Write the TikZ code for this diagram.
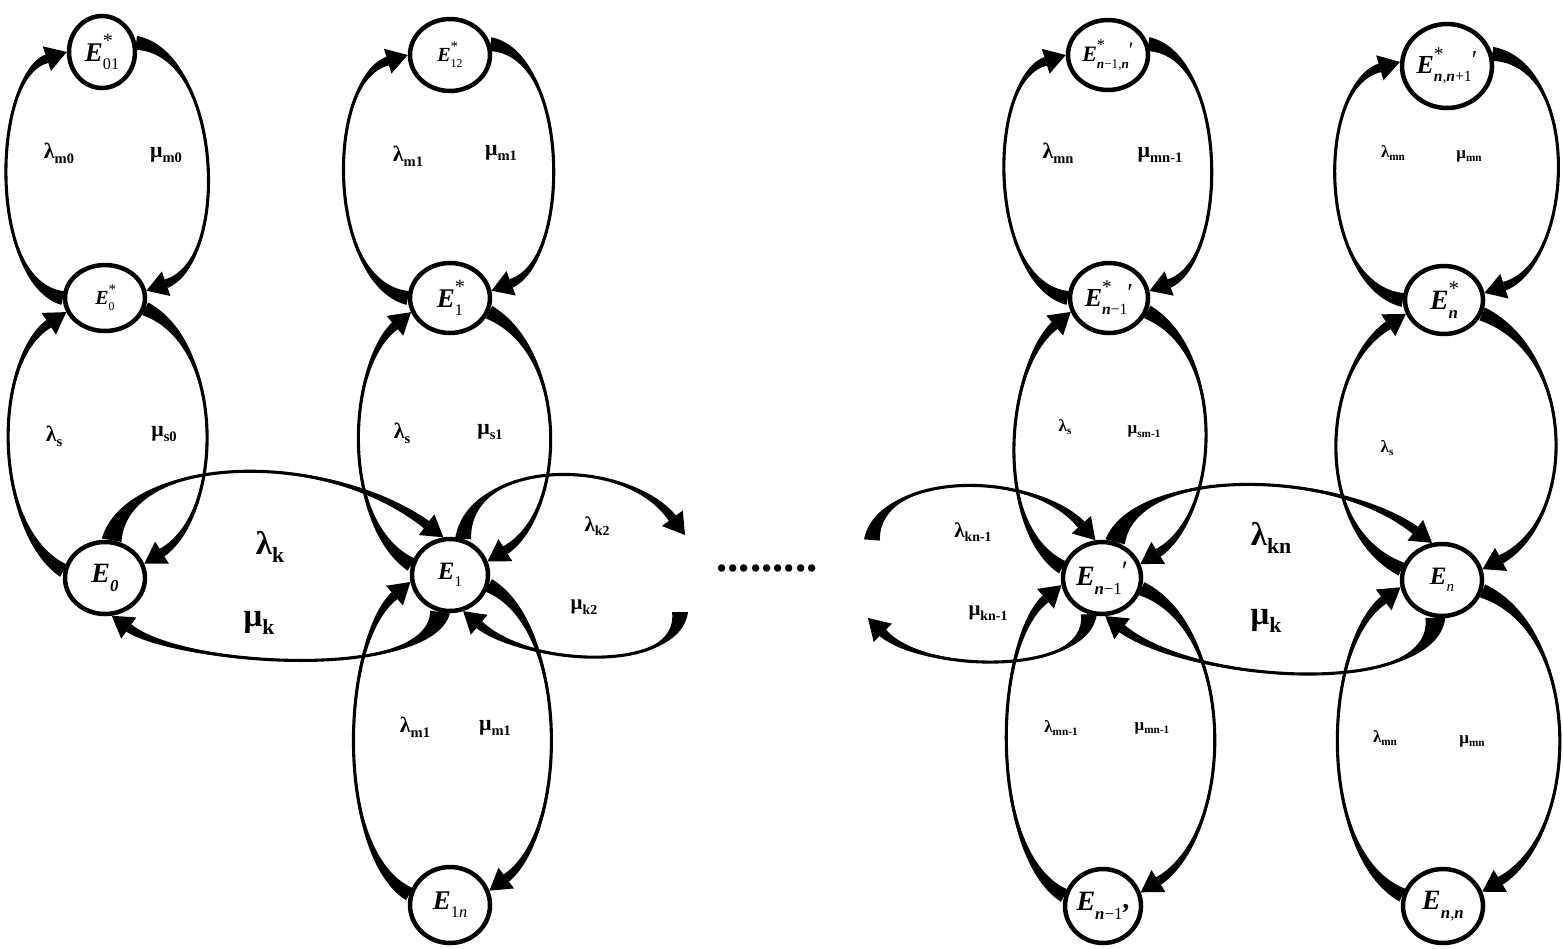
\documentclass[tikz,border=0pt]{standalone}
\usepackage{fontspec}
\setmainfont{Liberation Serif}
\usetikzlibrary{calc, shapes.geometric, backgrounds}

\makeatletter
\newcommand{\shrink}[1]{\fontsize{\fpeval{#1*\f@size}}{\fpeval{#1*\f@size}}\selectfont}
\makeatother
\newcommand{\fs}[1]{\fontsize{#1}{#1}\selectfont\bfseries}
\newcommand{\bi}[1]{\textbf{\textit{#1}}}
\newcommand{\sps}[1]{\raisebox{0.5em}{\shrink{0.75}\mdseries\upshape #1}}
\newcommand{\sbs}[1]{\raisebox{-0.3em}{\shrink{0.6}\mdseries\upshape #1}}
\newcommand{\prm}{\raisebox{0.2em}{\mdseries\upshape ′}}
\newcommand{\rsub}[1]{\raisebox{-0.22em}{\shrink{0.66}#1}}

\newcommand{\arrlen}{21pt}
\newcommand{\arrwid}{13pt}
\newcommand{\tailwid}{4.5pt}

% tapered curved arrow: [start half width]{start}{ctrl offset at start}{ctrl offset at tip}{tip}
\newcommand{\flowarc}[5][7pt]{%
  \path (#2) coordinate (fa-s) ++(#3) coordinate (fa-c1);
  \path (#5) coordinate (fa-e) ++(#4) coordinate (fa-c2);
  \path ($(fa-e)!\arrlen!(fa-c2)$) coordinate (fa-b);
  \fill ($(fa-s)!#1!90:(fa-c1)$) .. controls (fa-c1) and (fa-c2) .. ($(fa-b)!\tailwid!-90:(fa-c2)$)
     -- ($(fa-b)!\tailwid!90:(fa-c2)$) .. controls (fa-c2) and (fa-c1) .. ($(fa-s)!#1!-90:(fa-c1)$) -- cycle;
  \draw[line width=3.1pt] (fa-s) .. controls (fa-c1) and (fa-c2) .. (fa-b);
  \fill (fa-e) -- ($(fa-b)!\arrwid!90:(fa-c2)$) -- ($(fa-b)!\arrwid!-90:(fa-c2)$) -- cycle;
}

\begin{document}
\begin{tikzpicture}[
    x=1pt, y=-1pt,
    state/.style     = {ellipse, draw, fill=white, line width=4.5pt, inner sep=0pt},
    rate/.style      = {font=\fs{22}, inner sep=0pt},
    bigrate/.style   = {font=\fs{33}, inner sep=0pt},
    midrate/.style   = {font=\fs{21}, inner sep=0pt},
    smallrate/.style = {font=\fs{17}, inner sep=0pt},
  ]
    \useasboundingbox (0,0) rectangle (1563,948);

    % ── column 0 ──
    \node[state, minimum width=66pt, minimum height=72pt, font=\fs{27}] (e01s) at (102,52)  {\bi{E}\rlap{\sps{*}}\sbs{01}};
    \node[state, minimum width=80pt, minimum height=66pt, font=\fs{20}] (e0s)  at (105,298) {\bi{E}\rlap{\sps{*}}\sbs{0}};
    \node[state, minimum width=80pt, minimum height=72pt, font=\fs{28}] (e0)   at (105,578) {\bi{E}\sbs{\bfseries\itshape 0}};

    % ── column 1 ──
    \node[state, minimum width=80pt, minimum height=72pt, font=\fs{20}] (e12s) at (450,55)  {\bi{E}\rlap{\sps{*}}\sbs{12}};
    \node[state, minimum width=80pt, minimum height=70pt, font=\fs{27}] (e1s)  at (450,298) {\bi{E}\rlap{\sps{*}}\sbs{1}};
    \node[state, minimum width=76pt, minimum height=72pt, font=\fs{25}] (e1)   at (450,575) {\bi{E}\sbs{1}};
    \node[state, minimum width=80pt, minimum height=76pt, font=\fs{27}] (e1n)  at (450,905) {\bi{E}\sbs{1\textit{n}}};

    % ── column n-1 ──
    \node[state, minimum width=80pt, minimum height=70pt, font=\fs{22}] (en1ns) at (1108,55)  {\bi{E}\rlap{\sps{*}}\sbs{\bi{n}−1,\bi{n}}\prm};
    \node[state, minimum width=78pt, minimum height=70pt, font=\fs{26}] (en1s)  at (1109,298) {\bi{E}\rlap{\sps{*}}\sbs{\bi{n}−1}\prm};
    \node[state, minimum width=78pt, minimum height=72pt, font=\fs{28}] (en1)   at (1102,578) {\bi{E}\sbs{\bi{n}−1}\prm};
    \node[state, minimum width=76pt, minimum height=74pt, font=\fs{28}] (en1b)  at (1103,906) {\bi{E}\sbs{\bi{n}−1}\raisebox{0.1em}{,}};

    % ── column n ──
    \node[state, minimum width=90pt, minimum height=84pt, font=\fs{26}] (enn1s) at (1447,66)  {\bi{E}\rlap{\sps{*}}\sbs{\bi{n},\bi{n}+1}\prm};
    \node[state, minimum width=78pt, minimum height=68pt, font=\fs{28}] (ens)   at (1444,300) {\bi{E}\rlap{\sps{*}}\sbs{\bi{n}}};
    \node[state, minimum width=80pt, minimum height=72pt, font=\fs{25}] (en)    at (1442,580) {\bi{E}\sbs{\textit{n}}};
    \node[state, minimum width=80pt, minimum height=74pt, font=\fs{28}] (enn)   at (1443,906) {\bi{E}\sbs{\bi{n},\bi{n}}};

    % ── open ends of the k-arcs ──
    \coordinate (k2top)  at (685,535);
    \coordinate (k2bot)  at (680,612);
    \coordinate (kn1top) at (872,540);
    \coordinate (kn1bot) at (868,618);

    % ── rates ──
    \node[rate]      (lm0)   at (59,153)   {λ\rsub{m0}};
    \node[rate]      (mm0)   at (166,155)  {μ\rsub{m0}};
    \node[rate]      (ls0)   at (54,436)   {λ\rsub{s}};
    \node[rate]      (ms0)   at (164,434)  {μ\rsub{s0}};
    \node[bigrate]   (lk)    at (270,547)  {λ\rsub{k}};
    \node[bigrate]   (mk)    at (259,623)  {μ\rsub{k}};
    \node[rate]      (lm1)   at (408,156)  {λ\rsub{m1}};
    \node[rate]      (mm1)   at (501,153)  {μ\rsub{m1}};
    \node[rate]      (ls1)   at (402,433)  {λ\rsub{s}};
    \node[rate]      (ms1)   at (490,432)  {μ\rsub{s1}};
    \node[midrate]   (lk2)   at (597,526)  {λ\rsub{k2}};
    \node[midrate]   (mk2)   at (584,607)  {μ\rsub{k2}};
    \node[rate]      (lm1b)  at (415,727)  {λ\rsub{m1}};
    \node[rate]      (mm1b)  at (495,728)  {μ\rsub{m1}};
    \node[font=\fs{45}, inner sep=0pt] (dots) at (767,568) {.........};
    \node[midrate]   (lkn1)  at (973,532)  {λ\rsub{kn-1}};
    \node[midrate]   (mkn1)  at (988,613)  {μ\rsub{kn-1}};
    \node[rate]      (lmn)   at (1058,153) {λ\rsub{mn}};
    \node[rate]      (mmn1)  at (1160,155) {μ\rsub{mn-1}};
    \node[smallrate] (lsn1)  at (1065,427) {λ\rsub{s}};
    \node[smallrate] (msn1)  at (1144,432) {μ\rsub{sm-1}};
    \node[bigrate]   (lkn)   at (1271,538) {λ\rsub{kn}};
    \node[bigrate]   (mkn)   at (1266,621) {μ\rsub{k}};
    \node[smallrate] (lsn)   at (1387,448) {λ\rsub{s}};
    \node[smallrate] (lmnt)  at (1393,153) {λ\rsub{mn}};
    \node[smallrate] (mmnt)  at (1469,156) {μ\rsub{mn}};
    \node[smallrate] (lmn1b) at (1061,728) {λ\rsub{mn-1}};
    \node[smallrate] (mmn1b) at (1152,728) {μ\rsub{mn-1}};
    \node[smallrate] (lmnb)  at (1385,738) {λ\rsub{mn}};
    \node[smallrate] (mmnb)  at (1472,741) {μ\rsub{mn}};

    \begin{scope}[on background layer]
      % ── column 0 loops ──
      \flowarc{e0s.180}{-75,-15}{-75,25}{e01s.west}
      \flowarc{e01s.15}{85,10}{85,-30}{e0s.10}
      \flowarc{e0.170}{-70,-40}{-75,50}{e0s.200}
      \flowarc{e0s.345}{80,35}{80,-50}{e0.20}
      \flowarc[10pt]{e0.80}{15,-85}{-120,-90}{e1.100}
      \flowarc[10pt]{e1.255}{-10,70}{70,50}{e0.280}
      % ── column 1 loops ──
      \flowarc{e1s.180}{-82,-15}{-82,25}{e12s.west}
      \flowarc{e12s.15}{80,10}{80,-30}{e1s.10}
      \flowarc{e1.165}{-70,-40}{-65,55}{e1s.200}
      \flowarc{e1s.340}{80,40}{80,-50}{e1.20}
      \flowarc{e1n.165}{-75,-40}{-70,60}{e1.190}
      \flowarc{e1.345}{80,40}{80,-60}{e1n.20}
      \flowarc[8pt]{e1.70}{5,-80}{-60,-80}{k2top}
      \flowarc[8pt]{k2bot}{0,62}{65,55}{e1.290}
      % ── column n-1 loops ──
      \flowarc{en1s.180}{-80,-15}{-80,25}{en1ns.west}
      \flowarc{en1ns.15}{80,10}{80,-30}{en1s.10}
      \flowarc{en1.165}{-70,-40}{-65,55}{en1s.200}
      \flowarc{en1s.340}{80,40}{80,-50}{en1.20}
      \flowarc{en1b.165}{-75,-40}{-70,60}{en1.190}
      \flowarc{en1.345}{95,40}{95,-60}{en1b.20}
      \flowarc[8pt]{kn1top}{5,-68}{-65,-72}{en1.100}
      \flowarc[8pt]{en1.250}{0,62}{55,55}{kn1bot}
      \flowarc[10pt]{en1.70}{20,-75}{-100,-75}{en.105}
      \flowarc[10pt]{en.260}{0,80}{90,68}{en1.275}
      % ── column n loops ──
      \flowarc{ens.180}{-85,-15}{-85,25}{enn1s.175}
      \flowarc{enn1s.15}{90,10}{90,-30}{ens.10}
      \flowarc{en.165}{-90,-40}{-85,55}{ens.200}
      \flowarc{ens.340}{95,40}{95,-50}{en.15}
      \flowarc{enn.165}{-85,-40}{-80,60}{en.190}
      \flowarc{en.345}{100,40}{100,-60}{enn.20}
    \end{scope}

  \end{tikzpicture}
\end{document}
